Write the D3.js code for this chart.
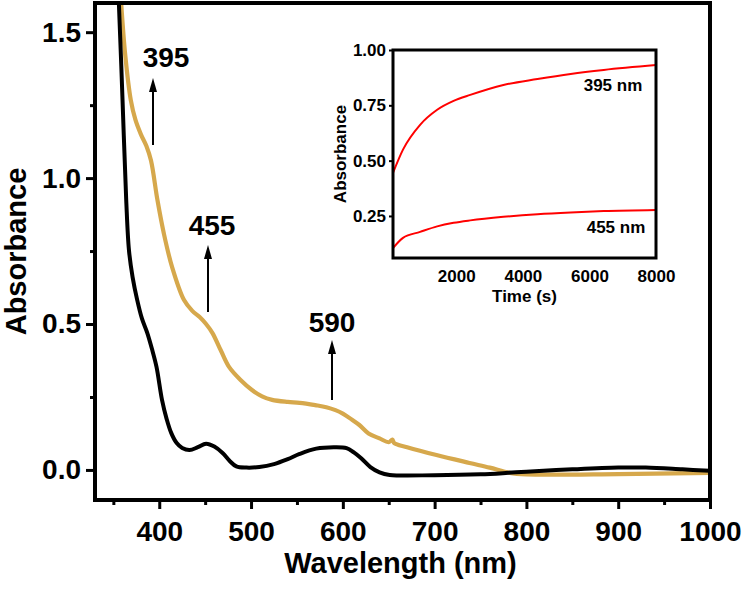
<!DOCTYPE html>
<html>
<head>
<meta charset="utf-8">
<script src="https://cdn.jsdelivr.net/npm/d3@7"></script>
<style>
  html, body { margin: 0; padding: 0; background: #fff; }
  svg text { font-family: "Liberation Sans", Arial, sans-serif; font-weight: bold; fill: #000; }
</style>
</head>
<body>
<svg id="chart" width="750" height="590"></svg>
<script>
// ---------- DATA ----------
const blackWavelength = [350, 356, 360, 364, 367, 371, 376, 381, 387, 392, 397, 403, 408, 413, 419, 425, 433, 442, 451, 460, 469, 477, 484, 495, 509, 525, 540, 553, 571, 590, 604, 612, 620, 630, 640, 651, 700, 750, 780, 800, 850, 900, 930, 970, 1000];
const blackAbsorbance = [2.0, 1.60, 1.267, 0.925, 0.753, 0.66, 0.582, 0.52, 0.469, 0.415, 0.353, 0.24, 0.175, 0.127, 0.092, 0.075, 0.068, 0.078, 0.09, 0.08, 0.058, 0.03, 0.012, 0.008, 0.01, 0.02, 0.037, 0.055, 0.073, 0.078, 0.075, 0.06, 0.04, 0.01, -0.008, -0.017, -0.018, -0.015, -0.01, -0.006, 0.002, 0.008, 0.008, 0.002, -0.003];

const goldWavelength = [354, 358.5, 363, 369, 374, 380, 386, 391, 398, 405, 414, 427, 436, 444, 451, 458, 467, 476, 488, 501, 512, 523, 540, 553, 570, 582, 592, 600, 610, 618, 628, 640, 650, 654, 656, 670, 702, 738, 760, 782, 800, 900, 1000];
const goldAbsorbance = [1.85, 1.60, 1.42, 1.267, 1.20, 1.15, 1.11, 1.06, 0.925, 0.81, 0.695, 0.582, 0.545, 0.524, 0.50, 0.469, 0.41, 0.353, 0.31, 0.274, 0.252, 0.24, 0.233, 0.23, 0.222, 0.215, 0.205, 0.193, 0.172, 0.154, 0.125, 0.108, 0.095, 0.104, 0.092, 0.078, 0.051, 0.024, 0.008, -0.01, -0.015, -0.014, -0.01];

const xTickValues = [400, 500, 600, 700, 800, 900, 1000];
const xMinorTicks = [350, 450, 550, 650, 750, 850, 950];
const yTickValues = [0.0, 0.5, 1.0, 1.5];
const yMinorTicks = [0.25, 0.75, 1.25];

const annotationLabels = ["395", "455", "590"];

// inset kinetics
const insetTime = [100, 400, 914, 1427, 1920, 2420, 3416, 4440, 5436, 6430, 8000];
const inset395 = [0.445, 0.55, 0.662, 0.73, 0.77, 0.797, 0.842, 0.869, 0.892, 0.91, 0.932];
const inset455 = [0.105, 0.151, 0.178, 0.203, 0.219, 0.23, 0.246, 0.258, 0.266, 0.272, 0.277];
const insetXTicks = [2000, 4000, 6000, 8000];
const insetYTicks = [0.25, 0.50, 0.75, 1.00];
const insetLabels = ["395 nm", "455 nm"];

// ---------- LAYOUT ----------
const svg = d3.select("#chart");
const M = { left: 95, top: 3, right: 710, bottom: 500 };
const x = d3.scaleLinear().domain([330, 1000]).range([M.left, M.right]);
const y = d3.scaleLinear().domain([-0.103, 1.6]).range([M.bottom, M.top]);

const GOLD = "#d6a84c";
const FONT = "'Liberation Sans', Arial, sans-serif";

svg.append("defs").append("clipPath").attr("id", "plotclip")
  .append("rect").attr("x", M.left).attr("y", M.top)
  .attr("width", M.right - M.left).attr("height", M.bottom - M.top);

const line = d3.line().x(d => x(d[0])).y(d => y(d[1])).curve(d3.curveCatmullRom.alpha(0.5));
const gCurves = svg.append("g").attr("clip-path", "url(#plotclip)");
gCurves.append("path")
  .datum(goldWavelength.map((w, i) => [w, goldAbsorbance[i]]))
  .attr("d", line).attr("fill", "none").attr("stroke", GOLD).attr("stroke-width", 4.2)
  .attr("stroke-linejoin", "round");
gCurves.append("path")
  .datum(blackWavelength.map((w, i) => [w, blackAbsorbance[i]]))
  .attr("d", line).attr("fill", "none").attr("stroke", "#000").attr("stroke-width", 4)
  .attr("stroke-linejoin", "round");

function styleAxis(g) {
  g.select(".domain").remove();
  g.selectAll(".tick line").attr("stroke", "#000").attr("stroke-width", 3);
}
function styleText(g, size) {
  g.selectAll("text").style("font-size", size).style("font-family", FONT)
    .style("font-weight", "bold").attr("fill", "#000");
}
const xAxis = svg.append("g").attr("transform", `translate(0,${M.bottom})`)
  .call(d3.axisBottom(x).tickValues(xTickValues).tickFormat(d3.format("d")).tickSize(9).tickPadding(12));
styleAxis(xAxis); styleText(xAxis, "28px");
const xMinor = svg.append("g").attr("transform", `translate(0,${M.bottom})`)
  .call(d3.axisBottom(x).tickValues(xMinorTicks).tickFormat("").tickSize(5));
styleAxis(xMinor);

const yAxis = svg.append("g").attr("transform", `translate(${M.left},0)`)
  .call(d3.axisLeft(y).tickValues(yTickValues).tickFormat(d3.format(".1f")).tickSize(9).tickPadding(5));
styleAxis(yAxis); styleText(yAxis, "28px");
const yMinor = svg.append("g").attr("transform", `translate(${M.left},0)`)
  .call(d3.axisLeft(y).tickValues(yMinorTicks).tickFormat("").tickSize(5));
styleAxis(yMinor);

svg.append("rect").attr("x", M.left).attr("y", M.top)
  .attr("width", M.right - M.left).attr("height", M.bottom - M.top)
  .attr("fill", "none").attr("stroke", "#000").attr("stroke-width", 4);

svg.append("text").attr("x", (M.left + M.right) / 2 - 2).attr("y", 573)
  .attr("text-anchor", "middle").style("font-size", "29px").text("Wavelength (nm)");
svg.append("text").attr("transform", `translate(26,${(M.top + M.bottom) / 2}) rotate(-90)`)
  .attr("text-anchor", "middle").style("font-size", "29px").text("Absorbance");

// annotations
const annX = [153, 208, 332];
const annLabelDX = [13, 4, 0];
const annLabelY = [67, 235, 332];
const annTipY = [78, 245, 340];
const annTailY = [145, 312, 400];
const arrowG = svg.append("g");
annotationLabels.forEach((lab, i) => {
  const ax = annX[i];
  arrowG.append("line").attr("x1", ax).attr("x2", ax)
    .attr("y1", annTailY[i]).attr("y2", annTipY[i] + 10)
    .attr("stroke", "#000").attr("stroke-width", 2);
  arrowG.append("path")
    .attr("d", `M${ax},${annTipY[i]} L${ax - 4},${annTipY[i] + 14} L${ax + 4},${annTipY[i] + 14} Z`)
    .attr("fill", "#000");
  arrowG.append("text").attr("x", ax + annLabelDX[i]).attr("y", annLabelY[i])
    .attr("text-anchor", "middle").style("font-size", "28px").text(lab);
});

// ---------- INSET ----------
const I = { left: 393, top: 50, right: 656, bottom: 258 };
const ix = d3.scaleLinear().domain([100, 8000]).range([I.left, I.right]);
const iy = d3.scaleLinear().domain([0.06, 1.0]).range([I.bottom, I.top]);

const iline = d3.line().x(d => ix(d[0])).y(d => iy(d[1])).curve(d3.curveMonotoneX);
svg.append("path").datum(insetTime.map((t, i) => [t, inset395[i]]))
  .attr("d", iline).attr("fill", "none").attr("stroke", "#ff0000").attr("stroke-width", 2);
svg.append("path").datum(insetTime.map((t, i) => [t, inset455[i]]))
  .attr("d", iline).attr("fill", "none").attr("stroke", "#ff0000").attr("stroke-width", 2);

const ixAxis = svg.append("g").attr("transform", `translate(0,${I.bottom})`)
  .call(d3.axisBottom(ix).tickValues(insetXTicks).tickFormat(d3.format("d")).tickSize(0).tickPadding(12));
styleAxis(ixAxis); styleText(ixAxis, "17px");

const iyAxis = svg.append("g").attr("transform", `translate(${I.left},0)`)
  .call(d3.axisLeft(iy).tickValues(insetYTicks).tickFormat(d3.format(".2f")).tickSize(4).tickPadding(3));
styleAxis(iyAxis);
iyAxis.selectAll(".tick line").attr("stroke-width", 2);
styleText(iyAxis, "17px");

svg.append("rect").attr("x", I.left).attr("y", I.top)
  .attr("width", I.right - I.left).attr("height", I.bottom - I.top)
  .attr("fill", "none").attr("stroke", "#000").attr("stroke-width", 3);

svg.append("text").attr("x", (I.left + I.right) / 2).attr("y", 302)
  .attr("text-anchor", "middle").style("font-size", "17px").text("Time (s)");
svg.append("text").attr("transform", `translate(346,${(I.top + I.bottom) / 2}) rotate(-90)`)
  .attr("text-anchor", "middle").style("font-size", "17px").text("Absorbance");

svg.append("text").attr("x", 613).attr("y", 91).attr("text-anchor", "middle")
  .style("font-size", "17px").text(insetLabels[0]);
svg.append("text").attr("x", 616).attr("y", 233).attr("text-anchor", "middle")
  .style("font-size", "17px").text(insetLabels[1]);
</script>
</body>
</html>
